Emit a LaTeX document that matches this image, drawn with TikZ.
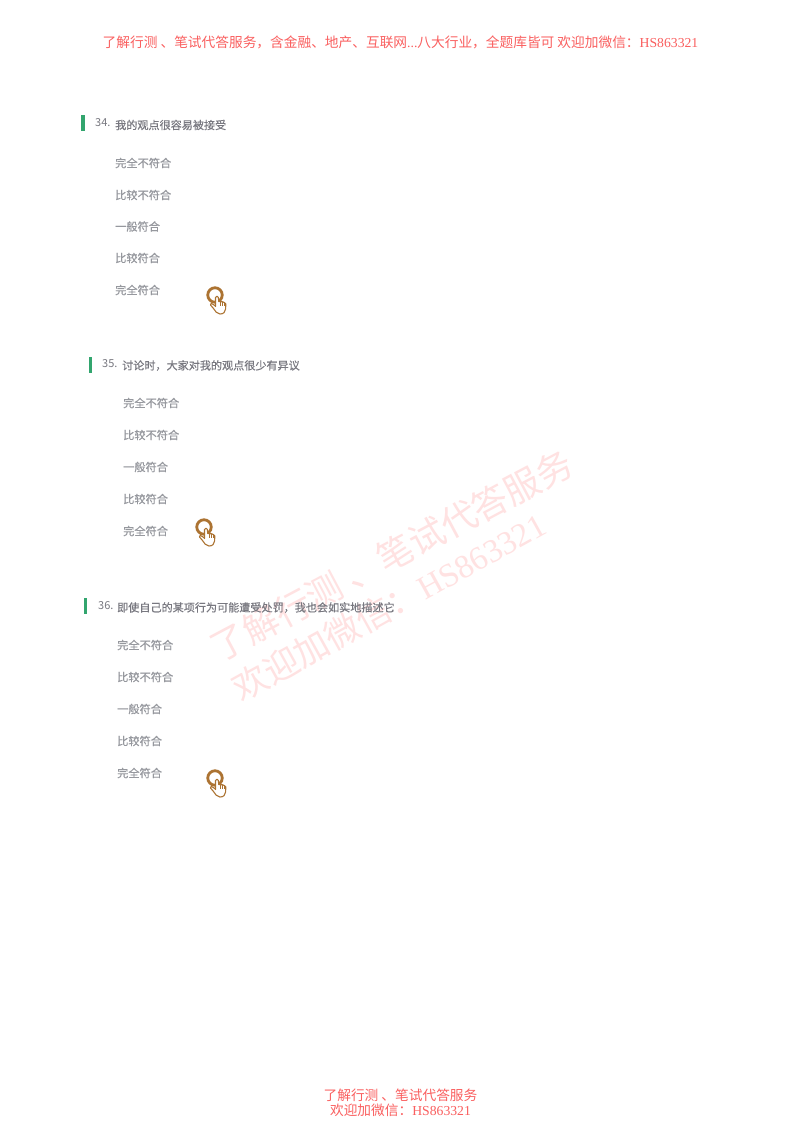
\documentclass[tikz,border=0pt]{standalone}
\usepackage{fontspec}
\newfontfamily\cjk{Noto Sans CJK SC}
\newfontfamily\cjkheavy[FakeBold=0.5]{Noto Sans CJK SC}
\newfontfamily\lat{Liberation Serif}
\definecolor{wmred}{RGB}{255,226,226}
\definecolor{hdred}{RGB}{250,95,95}
\definecolor{optgray}{RGB}{150,152,158}
\definecolor{qgray}{RGB}{120,120,128}
\definecolor{bargreen}{RGB}{50,165,110}
\definecolor{handbrown}{RGB}{172,115,50}
\tikzset{
  x=1pt,y=-1pt,
  hdtext/.style={text=hdred,font=\cjk\fontsize{13.7}{16}\selectfont,inner sep=0pt},
  wmtext/.style={text=wmred,font=\cjk\fontsize{36}{40}\selectfont,inner sep=0pt,rotate=28,anchor=west},
  wmtextb/.style={text=wmred,font=\cjk\fontsize{35}{40}\selectfont,inner sep=0pt,rotate=29,anchor=west},
  opttext/.style={text=optgray,font=\cjkheavy\fontsize{11.2}{13}\selectfont,inner sep=0pt,anchor=west},
  qtext/.style={text=qgray,font=\cjkheavy\fontsize{11.1}{13}\selectfont,inner sep=0pt,anchor=west},
  qnum/.style={text=qgray,font=\cjk\fontsize{11}{13}\selectfont,inner sep=0pt,anchor=west},
  qbar/.style={fill=bargreen,draw=none,inner sep=0pt,minimum width=3.5pt,minimum height=16pt},
  ring/.style={draw=handbrown,line width=2.8pt,circle,inner sep=0pt,minimum size=14.5pt},
  handline/.style={draw=handbrown,line width=1.1pt,fill=white,line join=round},
  fingerline/.style={draw=handbrown,line width=0.8pt},
  tapicon/.pic={
    \node[ring] (-r) at (0,0) {};
    \path[handline] (0.5,2.5) .. controls (1,0.8) and (3,0.8) .. (3.4,2.5)
      -- (3.7,6.5) .. controls (6,6) and (10,7) .. (10.8,9)
      -- (10.6,14) .. controls (10.4,17) and (8.5,19) .. (5,19)
      .. controls (2,19) and (0,16) .. (-1.5,13.5)
      -- (-4.5,10) .. controls (-5.2,8.5) and (-3,7.5) .. (-1.5,9.5)
      -- (0.6,11.5) -- cycle;
    \draw[fingerline] (5,7) -- (5,11) (7,7) -- (7,11) (9,7.5) -- (9,11);
  }
}
\begin{document}
\begin{tikzpicture}
\useasboundingbox (0,0) rectangle (800,1133);
\fill[white] (0,0) rectangle (800,1133);
% watermark
\node[wmtext] (wm1) at (213,650) {了解行测 、笔试代答服务};
\node[wmtextb] (wm2) at (235,691) {欢迎加微信：{\lat\fontsize{33}{40}\selectfont HS863321}};
% header and footer
\node[hdtext] (hd) at (400.5,42) {了解行测 、笔试代答服务，含金融、地产、互联网{\lat ...}八大行业，全题库皆可 欢迎加微信：{\lat HS863321}};
\node[hdtext] (ft1) at (400.5,1095) {了解行测 、笔试代答服务};
\node[hdtext] (ft2) at (400.5,1110.5) {欢迎加微信：{\lat HS863321}};
% Q34
\node[qbar] (b34) at (83,123) {};
\node[qnum] (n34) at (95,122.5) {34.};
\node[qtext] (q34) at (115,125) {我的观点很容易被接受};
\node[opttext] (a34a) at (115,163) {完全不符合};
\node[opttext] (a34b) at (115,195) {比较不符合};
\node[opttext] (a34c) at (115,226.5) {一般符合};
\node[opttext] (a34d) at (115,258) {比较符合};
\node[opttext] (a34e) at (115,290) {完全符合};
\pic (t34) at (215,295) {tapicon};
% Q35
\node[qbar] (b35) at (90.5,364.5) {};
\node[qnum] (n35) at (102,364) {35.};
\node[qtext] (q35) at (122,365.5) {讨论时，大家对我的观点很少有异议};
\node[opttext] (a35a) at (123,403) {完全不符合};
\node[opttext] (a35b) at (123,435) {比较不符合};
\node[opttext] (a35c) at (123,467) {一般符合};
\node[opttext] (a35d) at (123,499) {比较符合};
\node[opttext] (a35e) at (123,531) {完全符合};
\pic (t35) at (204,527) {tapicon};
% Q36
\node[qbar] (b36) at (85.5,606) {};
\node[qnum] (n36) at (98,605.5) {36.};
\node[qtext] (q36) at (117,607.5) {即使自己的某项行为可能遭受处罚，我也会如实地描述它};
\node[opttext] (a36a) at (117,645) {完全不符合};
\node[opttext] (a36b) at (117,677) {比较不符合};
\node[opttext] (a36c) at (117,709) {一般符合};
\node[opttext] (a36d) at (117,741) {比较符合};
\node[opttext] (a36e) at (117,773) {完全符合};
\pic (t36) at (215,778) {tapicon};
\end{tikzpicture}
\end{document}
